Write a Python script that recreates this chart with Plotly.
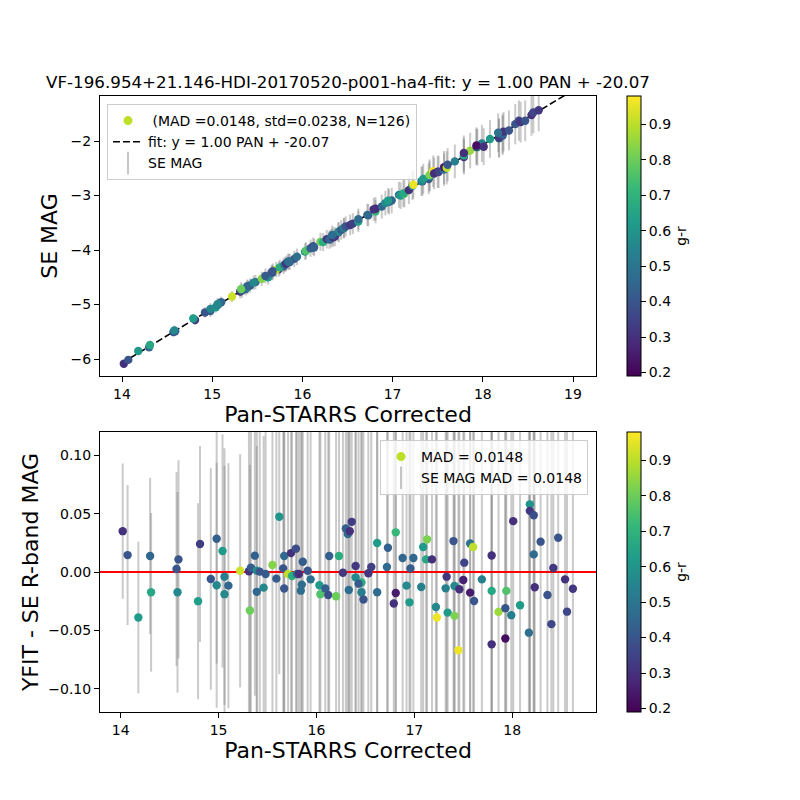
import plotly.graph_objects as go

# ---------------- data ----------------
pan = [14.02, 14.07, 14.18, 14.30, 14.31, 14.59, 14.57, 14.58, 14.81, 14.79,
       14.98, 15.04, 14.92, 14.98, 15.06, 15.10, 15.06, 15.22, 15.31, 15.33,
       15.37, 15.39, 15.42, 15.48, 15.39, 15.46, 15.32, 15.55, 15.62, 15.59,
       15.67, 15.74, 15.79, 15.66, 15.71, 15.75, 15.80, 15.82, 15.67, 15.86,
       15.91, 15.94, 15.85, 15.84, 16.03, 16.04, 16.09, 16.12, 16.20, 16.13,
       16.23, 16.27, 16.30, 16.32, 16.34, 16.36, 16.40, 16.40, 16.46, 16.43,
       16.33, 16.46, 16.48, 16.53, 16.56, 16.62, 16.62, 16.73, 16.72, 16.81,
       16.81, 16.79, 16.88, 16.99, 16.96, 16.92, 16.95, 17.07, 17.09, 17.13,
       17.12, 17.18, 17.22, 17.23, 17.33, 17.32, 17.40, 17.41, 17.34, 17.41,
       17.45, 17.46, 17.50, 17.51, 17.57, 17.57, 17.60, 17.61, 17.69, 17.79,
       17.79, 17.94, 17.86, 17.93, 17.99, 17.79, 17.93, 18.01, 18.08, 18.18,
       18.18, 18.22, 18.22, 18.23, 18.17, 18.29, 18.36, 18.40, 18.42, 18.47,
       18.54, 18.56, 18.62]

se_mag = [-6.085, -6.0145, -5.851, -5.7837, -5.7426, -5.4908, -5.5026, -5.4726, -5.284, -5.255,
          -5.1185, -5.048, -5.144, -5.0786, -5.006, -4.9583, -4.991, -4.8511, -4.7606, -4.7437,
          -4.714, -4.6811, -4.6503, -4.5883, -4.663, -4.5966, -4.717, -4.526, -4.4973, -4.4743,
          -4.4137, -4.3462, -4.300, -4.4131, -4.3583, -4.3166, -4.2683, -4.2483, -4.3858, -4.2188,
          -4.1611, -4.1237, -4.2092, -4.214, -4.0286, -4.011, -3.9658, -3.9303, -3.8492, -3.9537,
          -3.8537, -3.7994, -3.8073, -3.7825, -3.765, -3.753, -3.6751, -3.6654, -3.601, -3.630,
          -3.7246, -3.5926, -3.5664, -3.5389, -3.5143, -3.4748, -3.4326, -3.3608, -3.3543, -3.294,
          -3.242, -3.253, -3.202, -3.092, -3.1131, -3.1383, -3.094, -2.9872, -3.0014, -2.968,
          -2.9608, -2.9008, -2.820, -2.801, -2.736, -2.736, -2.6965, -2.648, -2.6952, -2.6224,
          -2.553, -2.5952, -2.5632, -2.568, -2.5245, -2.4823, -2.4914, -2.4352, -2.3737, -2.2942,
          -2.2638, -2.1138, -2.1758, -2.109, -2.043, -2.218, -2.083, -2.1036, -1.9615, -1.948,
          -1.9424, -1.8987, -1.8651, -1.8269, -1.848, -1.806, -1.6903, -1.6253, -1.6534, -1.6293,
          -1.5237, -1.476, -1.4357]

g_r = [0.30, 0.40, 0.62, 0.45, 0.66, 0.40, 0.40, 0.56, 0.33, 0.63,
       0.43, 0.62, 0.40, 0.56, 0.53, 0.45, 0.56, 0.92, 0.30, 0.42,
       0.43, 0.58, 0.40, 0.42, 0.45, 0.56, 0.80, 0.83, 0.60, 0.42,
       0.46, 0.30, 0.38, 0.40, 0.90, 0.68, 0.48, 0.30, 0.40, 0.42,
       0.40, 0.48, 0.47, 0.47, 0.62, 0.76, 0.43, 0.38, 0.80, 0.43,
       0.68, 0.32, 0.43, 0.46, 0.30, 0.33, 0.32, 0.56, 0.68, 0.42,
       0.47, 0.53, 0.40, 0.32, 0.34, 0.62, 0.46, 0.43, 0.46, 0.72,
       0.25, 0.30, 0.45, 0.45, 0.42, 0.56, 0.62, 0.53, 0.62, 0.82,
       0.66, 0.30, 0.56, 0.96, 0.32, 0.53, 0.40, 0.56, 0.62, 0.82,
       0.96, 0.30, 0.26, 0.35, 0.48, 0.25, 0.90, 0.40, 0.53, 0.30,
       0.66, 0.76, 0.86, 0.40, 0.53, 0.30, 0.22, 0.30, 0.62, 0.60,
       0.32, 0.38, 0.46, 0.30, 0.48, 0.40, 0.40, 0.36, 0.32, 0.40,
       0.30, 0.36, 0.32]

se_err = [0.058, 0.060, 0.065, 0.067, 0.068, 0.085, 0.083, 0.086, 0.084, 0.084,
          0.107, 0.100, 0.095, 0.105, 0.110, 0.105, 0.110, 0.100, 0.125, 0.130,
          0.120, 0.130, 0.130, 0.130, 0.125, 0.130, 0.125, 0.130, 0.135, 0.135,
          0.140, 0.140, 0.140, 0.140, 0.140, 0.140, 0.140, 0.145, 0.140, 0.145,
          0.150, 0.150, 0.145, 0.145, 0.155, 0.155, 0.160, 0.160, 0.165, 0.160,
          0.165, 0.170, 0.170, 0.170, 0.175, 0.175, 0.180, 0.180, 0.185, 0.180,
          0.175, 0.185, 0.185, 0.190, 0.190, 0.195, 0.195, 0.205, 0.205, 0.215,
          0.215, 0.210, 0.220, 0.235, 0.230, 0.225, 0.230, 0.240, 0.245, 0.250,
          0.250, 0.255, 0.260, 0.260, 0.270, 0.270, 0.280, 0.280, 0.275, 0.285,
          0.290, 0.290, 0.295, 0.295, 0.300, 0.300, 0.305, 0.305, 0.310, 0.320,
          0.320, 0.335, 0.325, 0.335, 0.340, 0.320, 0.335, 0.340, 0.345, 0.355,
          0.355, 0.360, 0.360, 0.360, 0.355, 0.365, 0.370, 0.370, 0.375, 0.375,
          0.380, 0.380, 0.385]

slope = 1.00
intercept = -20.07
fit_x = [14.0, 19.0]

title_text = "VF-196.954+21.146-HDI-20170520-p001-ha4-fit: y = 1.00 PAN + -20.07"
legend_top_pts = " (MAD =0.0148, std=0.0238, N=126)"
legend_top_fit = "fit: y = 1.00 PAN + -20.07"
legend_top_err = "SE MAG"
legend_bot_pts = "MAD = 0.0148"
legend_bot_err = "SE MAG MAD = 0.0148"

top_xrange = [13.756, 19.255]
top_yrange = [-6.31, -1.174]
bot_xrange = [13.788, 18.856]
bot_yrange = [-0.12, 0.12]
cb_ticks = [0.2, 0.3, 0.4, 0.5, 0.6, 0.7, 0.8, 0.9]
cmin, cmax = 0.19, 0.98

# derived quantities (as the chart defines them)
yfit = [slope * p + intercept for p in pan]
resid = [yf - s for yf, s in zip(yfit, se_mag)]
fit_y = [slope * x + intercept for x in fit_x]

FONT = "DejaVu Sans"
ERRCOL = "rgba(128,128,128,0.42)"
LEGERR = "rgba(128,128,128,0.45)"
LEGCOL = "#bddf26"
MSIZE = 8.4

# page offset (browser body margin) compensation
OFF = 8
W = 800.0


def px(v):
    return (v - OFF) / W


def py(v):
    return 1 - (v - OFF) / W


fig = go.Figure()


def colorbar(yc):
    return dict(
        x=px(627), xanchor="left", xpad=0, ypad=0,
        y=yc, yanchor="middle", len=0.35, lenmode="fraction",
        thickness=14, outlinecolor="black", outlinewidth=1,
        ticks="outside", ticklen=5, tickcolor="black",
        tickvals=cb_ticks, tickformat=".1f",
        tickfont=dict(family=FONT, size=14, color="black"),
        title=dict(text="g-r", side="right", font=dict(family=FONT, size=14, color="black")),
    )


# ---------- top panel ----------
fig.add_trace(go.Scatter(
    x=pan, y=se_mag, mode="markers", xaxis="x", yaxis="y",
    marker=dict(size=1, opacity=0),
    error_y=dict(type="data", array=se_err, color=ERRCOL, thickness=2, width=0),
    showlegend=False, hoverinfo="skip"))
fig.add_trace(go.Scatter(
    x=fit_x, y=fit_y, mode="lines", xaxis="x", yaxis="y",
    line=dict(color="black", width=1.6, dash="7px,3px"),
    name=legend_top_fit, legend="legend", legendrank=2))
fig.add_trace(go.Scatter(
    x=pan, y=se_mag, mode="markers", xaxis="x", yaxis="y",
    marker=dict(size=MSIZE, color=g_r, colorscale="Viridis", cmin=cmin, cmax=cmax,
                line=dict(width=0), colorbar=colorbar(py(236))),
    showlegend=False))
fig.add_trace(go.Scatter(
    x=[None], y=[None], mode="markers", xaxis="x", yaxis="y",
    marker=dict(size=9, color=LEGCOL), name=legend_top_pts,
    legend="legend", legendrank=1))
fig.add_trace(go.Scatter(
    x=[None], y=[None], mode="markers", xaxis="x", yaxis="y",
    marker=dict(size=16, symbol="line-ns-open", color=LEGERR, line=dict(color=LEGERR, width=2)),
    name=legend_top_err, legend="legend", legendrank=3))

# ---------- bottom panel ----------
fig.add_trace(go.Scatter(
    x=pan, y=resid, mode="markers", xaxis="x2", yaxis="y2",
    marker=dict(size=1, opacity=0),
    error_y=dict(type="data", array=se_err, color=ERRCOL, thickness=2, width=0),
    showlegend=False, hoverinfo="skip"))
fig.add_trace(go.Scatter(
    x=bot_xrange, y=[0, 0], mode="lines", xaxis="x2", yaxis="y2",
    line=dict(color="red", width=2), showlegend=False, hoverinfo="skip"))
fig.add_trace(go.Scatter(
    x=pan, y=resid, mode="markers", xaxis="x2", yaxis="y2",
    marker=dict(size=MSIZE, color=g_r, colorscale="Viridis", cmin=cmin, cmax=cmax,
                line=dict(width=0), colorbar=colorbar(py(572))),
    showlegend=False))
fig.add_trace(go.Scatter(
    x=[None], y=[None], mode="markers", xaxis="x2", yaxis="y2",
    marker=dict(size=9, color=LEGCOL), name=legend_bot_pts,
    legend="legend2", legendrank=1))
fig.add_trace(go.Scatter(
    x=[None], y=[None], mode="markers", xaxis="x2", yaxis="y2",
    marker=dict(size=16, symbol="line-ns-open", color=LEGERR, line=dict(color=LEGERR, width=2)),
    name=legend_bot_err, legend="legend2", legendrank=2))

axis_common = dict(
    showline=True, mirror=True, linecolor="black", linewidth=1,
    ticks="outside", ticklen=5, tickcolor="black", showgrid=False, zeroline=False,
    tickfont=dict(family=FONT, size=14, color="black"), automargin=False,
)
title_font = dict(family=FONT, size=22, color="black")

legend_common = dict(
    bgcolor="rgba(255,255,255,0.8)", bordercolor="#cccccc", borderwidth=1,
    font=dict(family=FONT, size=14, color="black"),
    xanchor="left", yanchor="top", tracegroupgap=0, itemwidth=30,
)

fig.update_layout(
    width=800, height=800,
    margin=dict(l=0, r=0, t=0, b=0),
    paper_bgcolor="white", plot_bgcolor="white",
    font=dict(family=FONT, color="black"),
    title=dict(text=title_text, x=px(348), xanchor="center", y=py(82), yanchor="middle",
               font=dict(family=FONT, size=16.7, color="black")),
    xaxis=dict(domain=[px(100), px(596)], anchor="y", range=top_xrange,
               dtick=1, title=dict(text="Pan-STARRS Corrected", font=title_font, standoff=4),
               **axis_common),
    yaxis=dict(domain=[py(376), py(96)], anchor="x", range=top_yrange,
               dtick=1, title=dict(text="SE MAG", font=title_font, standoff=6),
               **axis_common),
    xaxis2=dict(domain=[px(100), px(596)], anchor="y2", range=bot_xrange,
                dtick=1, title=dict(text="Pan-STARRS Corrected", font=title_font, standoff=4),
                **axis_common),
    yaxis2=dict(domain=[py(712), py(432)], anchor="x2", range=bot_yrange,
                dtick=0.05, tickformat=".2f",
                title=dict(text="YFIT - SE R-band MAG", font=title_font, standoff=3),
                **axis_common),
    legend=dict(x=px(107), y=py(104), **legend_common),
    legend2=dict(x=px(380), y=py(440), **legend_common),
)

fig.write_html("out.html")
